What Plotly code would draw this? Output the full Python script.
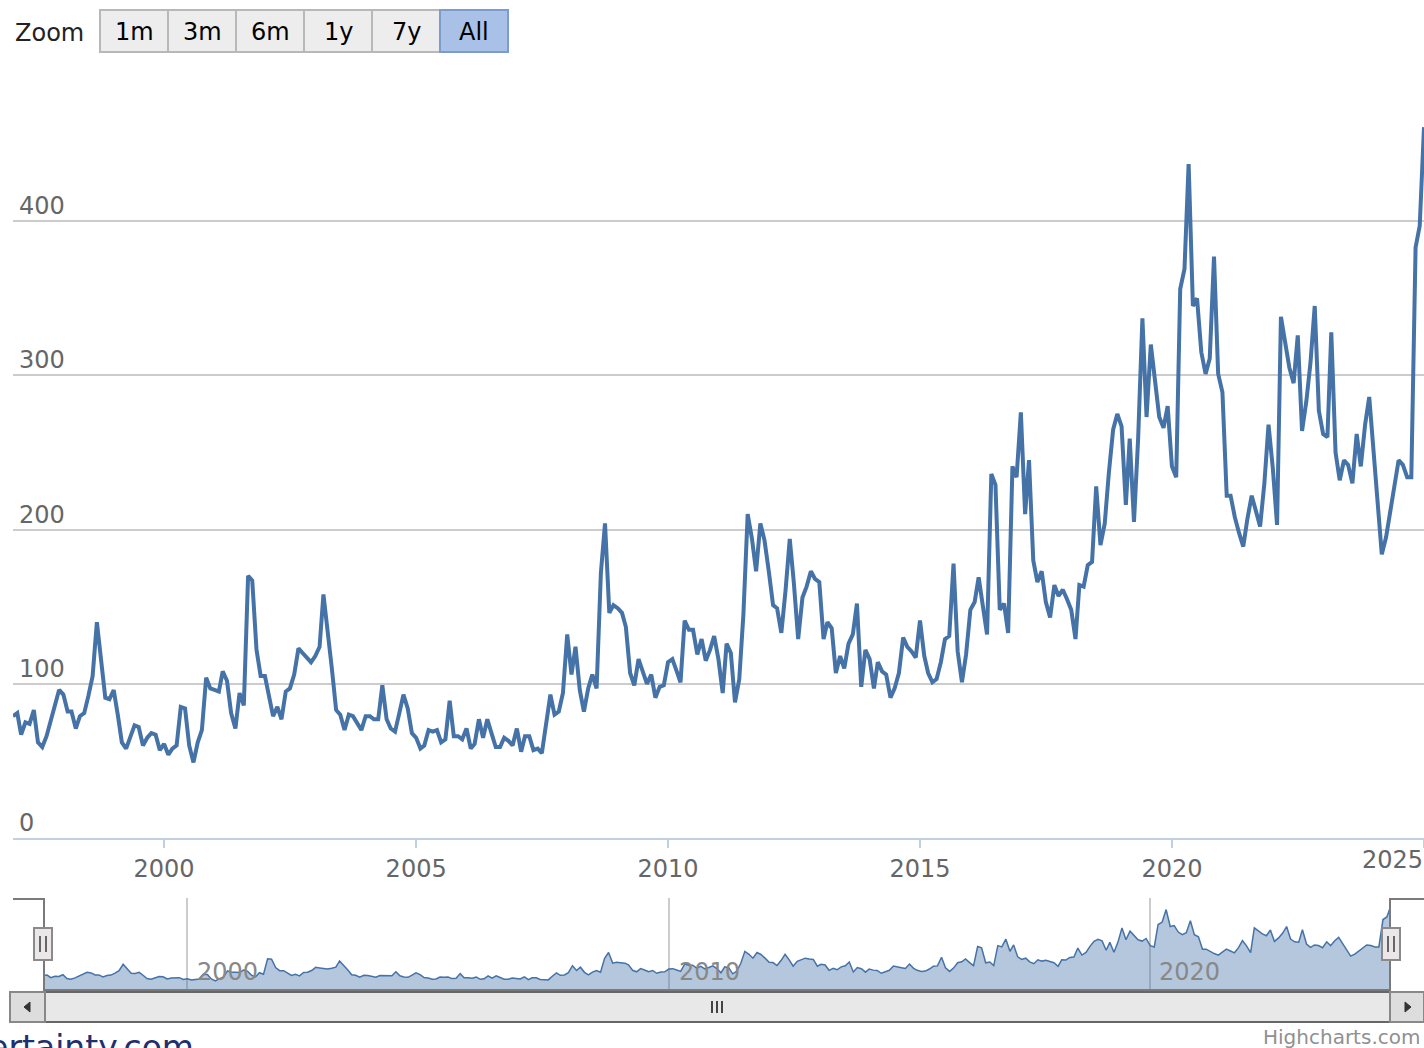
import pandas as pd
import plotly.graph_objects as go

W, H = 1424, 1048


def px(x):
    return x / W


def py(y):
    return 1 - y / H


# ---- data (monthly index values) ----
v1997 = [79, 81, 67, 75, 74, 83, 62, 59, 66, 76, 88, 96]
v1998 = [93, 82, 82, 71, 79, 81, 92, 105, 140, 114, 91, 90]
v1999 = [96, 79, 62, 58, 66, 73, 72, 60, 65, 68, 67, 57]
v2000 = [61, 54, 58, 60, 85, 84, 60, 49, 62, 70, 104, 97]
v2001 = [96, 95, 108, 102, 81, 71, 94, 86, 170, 167, 122, 105]
v2002 = [105, 90, 79, 85, 77, 95, 97, 106, 123, 120, 117, 114]
v2003 = [118, 124, 158, 135, 110, 83, 80, 70, 80, 79, 75, 70]
v2004 = [79, 79, 77, 77, 99, 77, 71, 69, 81, 93, 84, 68]
v2005 = [65, 58, 60, 70, 69, 70, 62, 64, 89, 66, 66, 64]
v2006 = [71, 58, 61, 77, 65, 77, 68, 59, 59, 65, 63, 60]
v2007 = [71, 56, 66, 66, 57, 58, 55, 75, 93, 80, 82, 94]
v2008 = [132, 106, 124, 96, 82, 97, 106, 97, 172, 204, 146, 151]
v2009 = [149, 146, 137, 107, 99, 116, 109, 100, 106, 91, 98, 99]
v2010 = [114, 116, 109, 101, 141, 135, 135, 119, 129, 115, 122, 131]
v2011 = [116, 94, 126, 120, 88, 103, 145, 210, 194, 173, 204, 193]
v2012 = [173, 151, 149, 133, 160, 194, 165, 129, 156, 163, 173, 168]
v2013 = [166, 129, 140, 136, 107, 118, 110, 126, 132, 152, 98, 122]
v2014 = [116, 97, 114, 108, 106, 91, 97, 107, 130, 124, 121, 117]
v2015 = [141, 118, 107, 101, 103, 114, 129, 131, 178, 121, 101, 119]
v2016 = [148, 153, 169, 149, 132, 236, 229, 148, 152, 133, 241, 234]
v2017 = [276, 210, 245, 180, 166, 173, 153, 143, 164, 157, 161, 155]
v2018 = [148, 129, 164, 163, 177, 179, 228, 190, 204, 237, 265, 275]
v2019 = [267, 216, 259, 205, 259, 337, 273, 320, 293, 273, 266, 280]
v2020 = [241, 234, 356, 369, 437, 345, 350, 315, 301, 311, 377, 301]
v2021 = [289, 222, 222, 208, 198, 189, 207, 222, 212, 202, 230, 268]
v2022 = [240, 203, 338, 322, 305, 295, 326, 264, 283, 308, 345, 277]
v2023 = [262, 260, 328, 250, 232, 245, 242, 230, 262, 241, 268, 286]
v2024 = [250, 218, 184, 195, 211, 228, 245, 242, 234, 234, 383, 397]
v2025 = [461]

values = (v1997 + v1998 + v1999 + v2000 + v2001 + v2002 + v2003 + v2004 + v2005
          + v2006 + v2007 + v2008 + v2009 + v2010 + v2011 + v2012 + v2013 + v2014
          + v2015 + v2016 + v2017 + v2018 + v2019 + v2020 + v2021 + v2022 + v2023
          + v2024 + v2025)
dates = pd.date_range("1997-01-01", periods=len(values), freq="MS")

main_tick_years = [2000, 2005, 2010, 2015, 2020, 2025]
nav_tick_years = [2000, 2010, 2020]
y_ticks = [0, 100, 200, 300, 400, 500]
y_labels = ["0", "100", "200", "300", "400"]
zoom_buttons = ["1m", "3m", "6m", "1y", "7y", "All"]
selected_button = "All"

FONT = "DejaVu Sans"
LINE = "#4572A7"

fig = go.Figure()
fig.add_trace(go.Scatter(
    x=dates, y=values, mode="lines",
    line=dict(color=LINE, width=4), xaxis="x", yaxis="y",
    hoverinfo="x+y", showlegend=False, cliponaxis=False))
fig.add_trace(go.Scatter(
    x=dates, y=values, mode="lines", fill="tozeroy",
    fillcolor="rgba(69,114,167,0.4)",
    line=dict(color=LINE, width=1.5), xaxis="x2", yaxis="y2",
    hoverinfo="skip", showlegend=False))

tick_dates = [pd.Timestamp(f"{y}-01-01") for y in main_tick_years]
tick_text = [str(y) if y != 2025 else "" for y in main_tick_years]

fig.update_layout(
    width=W, height=H,
    margin=dict(l=0, r=0, t=0, b=0),
    paper_bgcolor="white", plot_bgcolor="white",
    font=dict(family=FONT, size=24, color="#666666"),
    xaxis=dict(
        domain=[px(13), 1], range=[dates[0], dates[-1]], anchor="y",
        tickvals=tick_dates, ticktext=tick_text, ticks="outside",
        ticklen=8, tickwidth=2, tickcolor="#C0D0E0",
        showline=True, linecolor="#C0D0E0", linewidth=2,
        showgrid=False, zeroline=False,
        tickfont=dict(family=FONT, size=24, color="#666666"),
    ),
    yaxis=dict(
        domain=[py(838), py(67)], range=[0, 500], anchor="x",
        tickvals=y_ticks, showticklabels=False,
        showgrid=True, gridcolor="#CCCCCC", gridwidth=2,
        zeroline=False, showline=False,
    ),
    xaxis2=dict(
        domain=[px(43), px(1391)], range=[dates[0], dates[-1]], anchor="y2",
        tickvals=[pd.Timestamp(f"{y}-01-01") for y in nav_tick_years],
        showticklabels=False, ticks="",
        showgrid=True, gridcolor="#CCCCCC", gridwidth=2,
        zeroline=False, showline=False,
    ),
    yaxis2=dict(
        domain=[py(990), py(898)], range=[0, 500], anchor="x2",
        showticklabels=False, showgrid=False, zeroline=False, showline=False,
    ),
)

shapes = []
annotations = []

# range selector
annotations.append(dict(x=px(13), y=py(33), xref="paper", yref="paper",
                        text="Zoom", showarrow=False, xanchor="left", yanchor="middle",
                        font=dict(family=FONT, size=24, color="#222222")))
for k, lab in enumerate(zoom_buttons):
    x0, x1 = 100 + 68 * k, 168 + 68 * k
    sel = lab == selected_button
    shapes.append(dict(type="rect", xref="paper", yref="paper",
                       x0=px(x0), x1=px(x1), y0=py(52), y1=py(10),
                       fillcolor="#A9C1E6" if sel else "#EDEDED",
                       line=dict(color="#7C9CD0" if sel else "#B8B8B8", width=2),
                       layer="above"))
    annotations.append(dict(x=px((x0 + x1) / 2), y=py(32), xref="paper", yref="paper",
                            text=lab, showarrow=False, xanchor="center", yanchor="middle",
                            font=dict(family=FONT, size=24, color="#000000")))

# y-axis labels above gridlines
for v, lab in zip(y_ticks, y_labels):
    annotations.append(dict(x=px(17), y=v, xref="paper", yref="y", text=lab,
                            showarrow=False, xanchor="left", yanchor="middle", yshift=15,
                            font=dict(family=FONT, size=24, color="#666666")))
# last x label, pulled inside the plot like the reference
annotations.append(dict(x=px(1392), y=py(860), xref="paper", yref="paper", text="2025",
                        showarrow=False, xanchor="center", yanchor="middle",
                        font=dict(family=FONT, size=24, color="#666666")))

# navigator labels
for yr, xl in zip(nav_tick_years, [195, 677, 1157]):
    annotations.append(dict(x=px(xl), y=py(972), xref="paper", yref="paper", text=str(yr),
                            showarrow=False, xanchor="left", yanchor="middle",
                            font=dict(family=FONT, size=24, color="#888888")))

# navigator outline
outline = (f"M {px(13)},{py(899)} L {px(44)},{py(899)} L {px(44)},{py(990)} "
           f"L {px(1390)},{py(990)} L {px(1390)},{py(899)} L {px(1424)},{py(899)}")
shapes.append(dict(type="path", xref="paper", yref="paper", path=outline,
                   line=dict(color="#7A7A7A", width=2), layer="above"))
# navigator handles
for hx in [43, 1391]:
    shapes.append(dict(type="rect", xref="paper", yref="paper",
                       x0=px(hx - 9), x1=px(hx + 9), y0=py(960), y1=py(928),
                       fillcolor="#EBE7E8", line=dict(color="#8A8A8A", width=2),
                       layer="above"))
    for dx in [-3, 3]:
        shapes.append(dict(type="line", xref="paper", yref="paper",
                           x0=px(hx + dx), x1=px(hx + dx), y0=py(936), y1=py(952),
                           line=dict(color="#666666", width=2), layer="above"))

# scrollbar
shapes.append(dict(type="rect", xref="paper", yref="paper",
                   x0=px(10), x1=px(1424), y0=py(1022), y1=py(992),
                   fillcolor="#EEEEEE", line=dict(color="#888888", width=2), layer="above"))
shapes.append(dict(type="rect", xref="paper", yref="paper",
                   x0=px(45), x1=px(1390), y0=py(1022), y1=py(992),
                   fillcolor="#E8E8E8", line=dict(color="#666666", width=2), layer="above"))
for bx0, bx1 in [(10, 45), (1390, 1424)]:
    shapes.append(dict(type="rect", xref="paper", yref="paper",
                       x0=px(bx0), x1=px(bx1), y0=py(1022), y1=py(992),
                       fillcolor="#DDDDDD", line=dict(color="#888888", width=2), layer="above"))
shapes.append(dict(type="path", xref="paper", yref="paper",
                   path=f"M {px(30)},{py(1002)} L {px(30)},{py(1012)} L {px(24)},{py(1007)} Z",
                   fillcolor="#333333", line=dict(color="#333333", width=1), layer="above"))
shapes.append(dict(type="path", xref="paper", yref="paper",
                   path=f"M {px(1405)},{py(1002)} L {px(1405)},{py(1012)} L {px(1411)},{py(1007)} Z",
                   fillcolor="#333333", line=dict(color="#333333", width=1), layer="above"))
for gx in [712, 717, 722]:
    shapes.append(dict(type="line", xref="paper", yref="paper",
                       x0=px(gx), x1=px(gx), y0=py(1001), y1=py(1013),
                       line=dict(color="#444444", width=2), layer="above"))

# credits and page text
annotations.append(dict(x=px(1422), y=py(1037), xref="paper", yref="paper",
                        text="Highcharts.com", showarrow=False, xanchor="right",
                        yanchor="middle", font=dict(family=FONT, size=20, color="#909090")))
annotations.append(dict(x=px(196), y=py(1026), xref="paper", yref="paper",
                        text="policyuncertainty.com", showarrow=False, xanchor="right",
                        yanchor="top", font=dict(family=FONT, size=33, color="#1F2F6F")))

fig.update_layout(shapes=shapes, annotations=annotations)

# remove the page's default body margin and scrollbars so the figure fills the window
page_js = ("document.documentElement.style.overflow='hidden';"
           "document.body.style.margin='0';document.body.style.overflow='hidden';")
fig.write_html("out.html", post_script=page_js, config={"displayModeBar": False})
